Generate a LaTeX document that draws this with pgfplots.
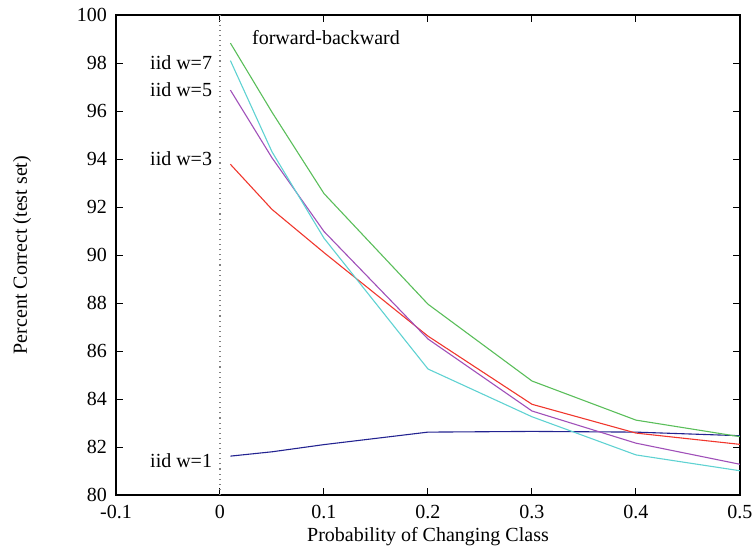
\documentclass[border=0pt]{standalone}
\usepackage{pgfplots}
\pgfplotsset{compat=1.18}
\usepackage{fontspec}
\setmainfont{Liberation Serif}
\definecolor{cgreen}{RGB}{90,190,90}
\definecolor{ccyan}{RGB}{95,210,210}
\definecolor{cpurple}{RGB}{160,80,185}
\definecolor{cred}{RGB}{240,55,45}
\definecolor{cblue}{RGB}{35,35,145}
\begin{document}
\begin{tikzpicture}
\begin{axis}[
  scale only axis, width=312pt, height=240pt,
  xmin=-0.1, xmax=0.5, ymin=80, ymax=100,
  xtick={-0.1,0,0.1,0.2,0.3,0.4,0.5},
  ytick={80,82,...,100},
  xticklabels={-0.1,0,0.1,0.2,0.3,0.4,0.5},
  tick pos=both, tick align=inside,
  major tick length=3.5pt,
  axis line style={line width=0.6pt},
  tick style={line width=0.5pt, black},
  /pgf/number format/assume math mode=true,
  ticklabel style={font=\fontsize{10}{12}\selectfont},
  xticklabel style={yshift=-1.5pt},
  yticklabel style={xshift=-1pt},
  label style={font=\fontsize{10}{12}\selectfont},
  xlabel={Probability of Changing Class},
  ylabel={Percent Correct (test set)},
  xlabel style={yshift=2.5pt},
  ylabel style={yshift=16pt},
  every axis plot/.append style={line width=0.55pt},
]
\addplot[gray, dotted, line width=0.6pt] coordinates {(0,80) (0,100)};
\addplot[cblue] coordinates {(0.01,81.62) (0.05,81.8) (0.1,82.1) (0.2,82.62) (0.3,82.65) (0.4,82.62) (0.5,82.47)};
\addplot[cred] coordinates {(0.01,93.78) (0.05,91.9) (0.1,90.1) (0.2,86.62) (0.3,83.78) (0.4,82.58) (0.5,82.11)};
\addplot[cpurple] coordinates {(0.01,96.87) (0.05,94.05) (0.1,90.98) (0.2,86.5) (0.3,83.5) (0.4,82.16) (0.5,81.28)};
\addplot[ccyan] coordinates {(0.01,98.1) (0.05,94.3) (0.1,90.7) (0.2,85.25) (0.3,83.26) (0.4,81.67) (0.5,81.01)};
\addplot[cgreen] coordinates {(0.01,98.83) (0.05,95.95) (0.1,92.56) (0.2,87.95) (0.3,84.75) (0.4,83.12) (0.5,82.43)};
\node[anchor=west, inner sep=0pt, font=\fontsize{10}{12}\selectfont] at (axis cs:-0.0675,98) {iid w=7};
\node[anchor=west, inner sep=0pt, font=\fontsize{10}{12}\selectfont] at (axis cs:-0.0675,96.9) {iid w=5};
\node[anchor=west, inner sep=0pt, font=\fontsize{10}{12}\selectfont] at (axis cs:-0.0675,94) {iid w=3};
\node[anchor=west, inner sep=0pt, font=\fontsize{10}{12}\selectfont] at (axis cs:-0.0675,81.45) {iid w=1};
\node[anchor=west, inner sep=0pt, font=\fontsize{10}{12}\selectfont] at (axis cs:0.0305,99.05) {forward-backward};
\end{axis}
\pgfresetboundingbox
\useasboundingbox (-58pt,-26pt) rectangle (319.5pt,247.5pt);
\end{tikzpicture}
\end{document}
